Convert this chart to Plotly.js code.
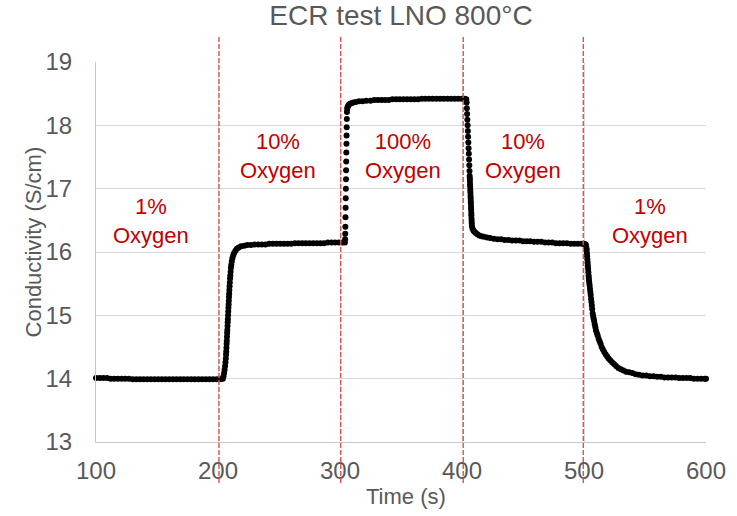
<!DOCTYPE html>
<html>
<head>
<meta charset="utf-8">
<script src="https://cdn.plot.ly/plotly-3.0.1.min.js"></script>
<style>
  html, body { margin: 0; padding: 0; background: #ffffff; }
  #chart { width: 737px; height: 516px; }
</style>
</head>
<body>
<div id="chart"></div>
<script>
// ECR relaxation of LNO at 800 °C: conductivity after each oxygen step.

// 1% O2 baseline
const timeLow1 = [100,103,106,109,112,115,118,121,124,127,130,133,136,139,142,145,148,151,154,157,160,163,166,169,172,175,178,181,184,187,190,193,196,199,202,204];
const condLow1 = [14.01,14.01,14.01,14.01,14.00,14.00,14.00,14.00,14.00,14.00,13.99,13.99,13.99,13.99,13.99,13.99,13.99,13.99,13.99,13.99,13.99,13.99,13.99,13.99,13.99,13.99,13.99,13.99,13.99,13.99,13.99,13.99,13.99,13.99,13.99,14.00];

// switch to 10% O2
const timeMid1 = [204.5,205.0,205.4,205.8,206.1,206.4,206.6,206.75,206.9,207.05,
  207.2,207.35,207.5,207.65,207.8,207.95,208.1,208.25,208.4,208.55,
  208.7,208.85,209.0,209.15,209.3,209.5,209.7,209.9,210.1,210.35,
  210.6,210.9,211.3,211.8,212.5,213.3,214.3,215.5,217,219,
  221.5,224,227,230,233,
  236,239,242,245,248,251,254,257,260,263,266,269,272,275,278,281,284,287,290,293,296,299,302,304];
const condMid1 = [14.04,14.09,14.14,14.20,14.26,14.32,14.38,14.43,14.49,14.55,
  14.60,14.66,14.72,14.77,14.83,14.89,14.94,15.00,15.06,15.12,
  15.17,15.23,15.29,15.34,15.40,15.46,15.52,15.58,15.63,15.69,
  15.75,15.80,15.85,15.90,15.95,15.99,16.02,16.05,16.07,16.09,
  16.10,16.11,16.11,16.12,16.12,
  16.12,16.12,16.13,16.13,16.13,16.13,16.13,16.13,16.13,16.14,16.14,16.14,16.14,16.14,16.14,16.14,16.14,16.14,16.15,16.15,16.15,16.15,16.15,16.15];

// switch to 100% O2
const timeHigh = [304.2,304.3,304.4,304.5,304.6,304.7,304.8,304.9,305.0,305.1,305.2,305.3,305.4,305.5,305.6,305.7,
  305.9,306.2,306.7,307.4,308.3,309.5,311,313,315.5,318.5,321.5,325,
  328,331,334,337,340,343,346,349,352,355,358,361,364,367,370,373,376,379,382,385,388,391,394,397,400,402,403.5];
const condHigh = [16.20,16.29,16.40,16.55,16.70,16.85,17.00,17.15,17.29,17.43,17.57,17.71,17.84,17.97,18.10,18.21,
  18.26,18.29,18.31,18.33,18.34,18.35,18.36,18.37,18.38,18.38,18.39,18.39,
  18.40,18.40,18.40,18.40,18.40,18.41,18.41,18.41,18.41,18.41,18.41,18.41,18.41,18.42,18.42,18.42,18.42,18.42,18.42,18.42,18.42,18.42,18.42,18.42,18.42,18.42,18.41];

// back to 10% O2
const timeMid2 = [403.8,404.0,404.2,404.4,404.6,404.8,405.0,405.2,405.4,405.6,405.8,406.0,406.15,406.3,
  406.4,406.5,406.6,406.7,406.8,406.9,407.0,407.1,407.2,407.3,407.4,407.5,407.6,407.7,407.8,407.9,408.0,408.1,
  408.6,409.3,410.2,411.3,412.6,414.2,416,418,420.5,423,426,429,432,435,438,
  441,444,447,450,453,456,459,462,465,468,471,474,477,480,483,486,489,492,495,498,500,501];
const condMid2 = [18.36,18.27,18.18,18.09,18.00,17.91,17.82,17.73,17.64,17.55,17.46,17.37,17.28,17.20,
  17.16,17.12,17.07,17.03,16.98,16.94,16.89,16.85,16.80,16.76,16.71,16.67,16.62,16.58,16.53,16.49,16.45,16.41,
  16.37,16.34,16.32,16.30,16.28,16.26,16.25,16.24,16.23,16.22,16.21,16.20,16.20,16.19,16.19,
  16.18,16.18,16.18,16.17,16.17,16.17,16.16,16.16,16.16,16.15,16.15,16.15,16.14,16.14,16.14,16.14,16.13,16.13,16.13,16.13,16.13,16.12];

// back to 1% O2
const timeLow2 = [501.5,501.8,502.0,502.2,502.4,502.6,502.8,503.0,503.2,503.4,503.6,503.8,503.95,
  504.1,504.35,504.6,504.9,505.2,505.5,505.8,506.1,506.4,506.7,507.1,507.5,507.9,508.3,508.8,509.3,509.8,
  510.5,511.2,512,512.8,513.6,514.5,515.5,516.6,517.8,519,520.2,521.5,523,524.6,526.3,528.2,530.2,532.3,
  534.6,537,539.6,542.3,545,548,551,554,557,560,563,566,569,572,575,578,581,584,587,590,593,596,599,600];
const condLow2 = [16.12,16.08,16.05,16.03,15.98,15.93,15.88,15.83,15.78,15.73,15.68,15.63,15.59,
  15.55,15.51,15.47,15.42,15.37,15.32,15.26,15.21,15.16,15.10,15.03,14.99,14.95,14.91,14.86,14.81,14.76,
  14.72,14.68,14.63,14.59,14.55,14.50,14.46,14.42,14.38,14.35,14.32,14.29,14.26,14.23,14.20,14.17,14.15,14.13,
  14.11,14.10,14.09,14.07,14.06,14.05,14.05,14.04,14.04,14.03,14.03,14.02,14.02,14.02,14.02,14.01,14.01,14.01,14.01,14.00,14.00,14.00,14.00,14.00];

// moments the gas mixture was switched
const switchTimes = [200.8, 300.6, 401, 499.4];

// step labels
const stepLabels = ['1%<br>Oxygen', '10%<br>Oxygen', '100%<br>Oxygen', '10%<br>Oxygen', '1%<br>Oxygen'];
const stepLabelTime = [145, 249, 351.5, 450, 554];
const stepLabelCond = [16.49, 17.52, 17.52, 17.52, 16.49];

const xTicks = [100, 200, 300, 400, 500, 600];
const yTicks = [13, 14, 15, 16, 17, 18, 19];

const time = [].concat(timeLow1, timeMid1, timeHigh, timeMid2, timeLow2);
const conductivity = [].concat(condLow1, condMid1, condHigh, condMid2, condLow2);

const grey = '#595959';
const font = 'Liberation Sans, Arial, sans-serif';

const trace = {
  x: time,
  y: conductivity,
  type: 'scatter',
  mode: 'markers',
  marker: { color: '#000000', size: 6, line: { width: 0 } },
  cliponaxis: false,
  hoverinfo: 'x+y'
};

const shapes = switchTimes.map(t => ({
  type: 'line', xref: 'x', yref: 'paper',
  x0: t, x1: t, y0: -0.108, y1: 1.07,
  line: { color: '#E05050', width: 1.4, dash: '5px,2px' },
  layer: 'above'
}));

const annotations = stepLabels.map((txt, i) => ({
  text: txt, x: stepLabelTime[i], y: stepLabelCond[i], xref: 'x', yref: 'y',
  showarrow: false, xanchor: 'center', yanchor: 'middle', align: 'center',
  font: { family: font, size: 22, color: '#C00000' }
}));

annotations.push({
  text: 'Time (s)', xref: 'paper', yref: 'paper', x: 0.508, y: -0.143,
  showarrow: false, xanchor: 'center', yanchor: 'middle',
  font: { family: font, size: 22, color: grey }
});
annotations.push({
  text: 'Conductivity (S/cm)', xref: 'paper', yref: 'paper', x: -0.103, y: 0.5255,
  showarrow: false, xanchor: 'center', yanchor: 'middle', textangle: -90,
  font: { family: font, size: 22, color: grey }
});

const layout = {
  width: 737, height: 516,
  margin: { l: 96, r: 31, t: 62, b: 74, pad: 0 },
  paper_bgcolor: '#ffffff', plot_bgcolor: '#ffffff',
  showlegend: false,
  title: {
    text: 'ECR test LNO 800°C',
    font: { family: font, size: 28, color: grey },
    x: 0.5, xanchor: 'center', xref: 'paper',
    y: 0.97, yanchor: 'middle', yref: 'container'
  },
  xaxis: {
    range: [100, 600], tickvals: xTicks, ticktext: xTicks.map(String),
    showgrid: true, gridcolor: '#D9D9D9', gridwidth: 1,
    showline: true, linecolor: '#C8C8C8', linewidth: 1,
    zeroline: false, ticks: '', ticklabelstandoff: 7,
    tickfont: { family: font, size: 24, color: grey }
  },
  yaxis: {
    range: [13, 19], tickvals: yTicks, ticktext: yTicks.map(String),
    showgrid: true, gridcolor: '#D9D9D9', gridwidth: 1,
    showline: true, linecolor: '#C8C8C8', linewidth: 1,
    zeroline: false, ticks: '', ticklabelstandoff: 18,
    tickfont: { family: font, size: 24, color: grey }
  },
  shapes: shapes,
  annotations: annotations
};

Plotly.newPlot('chart', [trace], layout, { displayModeBar: false, staticPlot: true });
</script>
</body>
</html>
